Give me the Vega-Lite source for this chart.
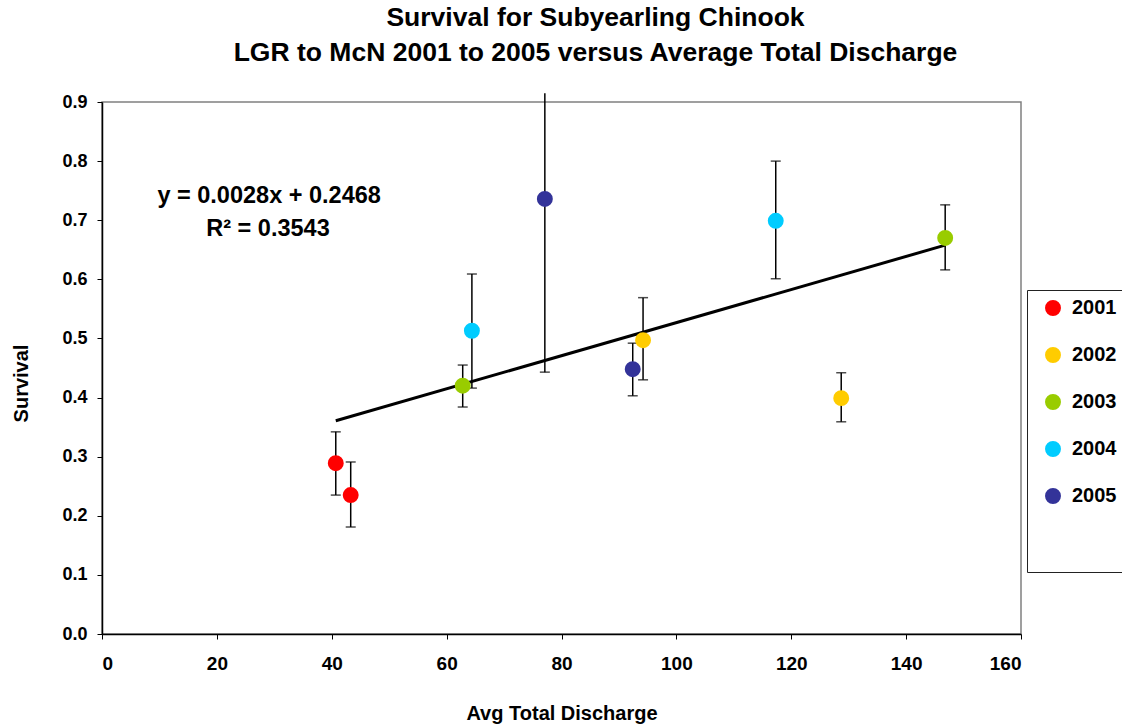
{
  "$schema": "https://vega.github.io/schema/vega-lite/v6.json",
  "autosize": "none",
  "width": 919,
  "height": 532,
  "padding": {"left": 102, "top": 102, "right": 101, "bottom": 94},
  "background": "white",
  "title": {
    "text": ["Survival for Subyearling Chinook", "LGR to McN 2001 to 2005 versus Average Total Discharge"],
    "font": "Liberation Sans",
    "fontSize": 26.5,
    "fontWeight": "bold",
    "color": "black",
    "anchor": "middle",
    "dx": 34,
    "offset": 26,
    "lineHeight": 35
  },
  "config": {
    "font": "Liberation Sans",
    "view": {"stroke": "#808080", "strokeWidth": 1.5},
    "axis": {
      "grid": false,
      "domainColor": "black",
      "domainWidth": 1.5,
      "tickColor": "black",
      "tickWidth": 1,
      "tickSize": 5,
      "labelFont": "Liberation Sans",
      "labelFontWeight": "bold",
      "labelColor": "black",
      "titleFont": "Liberation Sans",
      "titleFontSize": 20,
      "titleFontWeight": "bold",
      "titleColor": "black"
    }
  },
  "datasets": {
    "pts": [
      {"year": "2001", "discharge": 40.7, "survival": 0.289, "lo": 0.235, "hi": 0.342, "cap": true},
      {"year": "2001", "discharge": 43.3, "survival": 0.235, "lo": 0.181, "hi": 0.291, "cap": true},
      {"year": "2003", "discharge": 62.8, "survival": 0.420, "lo": 0.384, "hi": 0.455, "cap": true},
      {"year": "2004", "discharge": 64.4, "survival": 0.513, "lo": 0.416, "hi": 0.609, "cap": true},
      {"year": "2005", "discharge": 77.1, "survival": 0.736, "lo": 0.443, "hi": 0.915, "cap": false},
      {"year": "2005", "discharge": 92.4, "survival": 0.448, "lo": 0.403, "hi": 0.492, "cap": true},
      {"year": "2002", "discharge": 94.2, "survival": 0.497, "lo": 0.430, "hi": 0.569, "cap": true},
      {"year": "2004", "discharge": 117.3, "survival": 0.699, "lo": 0.601, "hi": 0.800, "cap": true},
      {"year": "2002", "discharge": 128.7, "survival": 0.399, "lo": 0.359, "hi": 0.442, "cap": true},
      {"year": "2003", "discharge": 146.8, "survival": 0.670, "lo": 0.616, "hi": 0.726, "cap": true}
    ],
    "trend": [
      {"discharge": 40.7, "survival": 0.3608},
      {"discharge": 146.8, "survival": 0.6578}
    ],
    "notes": [
      {"discharge": 29.1, "survival": 0.741, "label": "y = 0.0028x + 0.2468"},
      {"discharge": 28.9, "survival": 0.685, "label": "R² = 0.3543"}
    ]
  },
  "encoding": {
    "x": {
      "field": "discharge",
      "type": "quantitative",
      "scale": {"domain": [0, 160], "nice": false, "zero": false},
      "axis": {
        "title": "Avg Total Discharge",
        "values": [0, 20, 40, 60, 80, 100, 120, 140, 160],
        "labelFontSize": 19,
        "labelPadding": 15,
        "titlePadding": 30
      }
    },
    "y": {
      "field": "survival",
      "type": "quantitative",
      "scale": {"domain": [0, 0.9], "nice": false, "zero": false},
      "axis": {
        "title": "Survival",
        "values": [0, 0.1, 0.2, 0.3, 0.4, 0.5, 0.6, 0.7, 0.8, 0.9],
        "format": ".1f",
        "labelFontSize": 18,
        "labelPadding": 10,
        "titlePadding": 30,
        "titleY": 281
      }
    }
  },
  "layer": [
    {
      "data": {"name": "pts"},
      "mark": {"type": "rule", "color": "black", "strokeWidth": 1.5},
      "encoding": {
        "y": {"field": "lo", "type": "quantitative"},
        "y2": {"field": "hi"}
      }
    },
    {
      "data": {"name": "pts"},
      "mark": {"type": "tick", "orient": "horizontal", "color": "black", "size": 10, "thickness": 1.5},
      "encoding": {
        "y": {"field": "lo", "type": "quantitative"}
      }
    },
    {
      "data": {"name": "pts"},
      "transform": [{"filter": "datum.cap"}],
      "mark": {"type": "tick", "orient": "horizontal", "color": "black", "size": 10, "thickness": 1.5},
      "encoding": {
        "y": {"field": "hi", "type": "quantitative"}
      }
    },
    {
      "data": {"name": "trend"},
      "mark": {"type": "line", "color": "black", "strokeWidth": 3},
      "encoding": {}
    },
    {
      "data": {"name": "pts"},
      "mark": {"type": "circle", "size": 254, "opacity": 1},
      "encoding": {
        "color": {
          "field": "year",
          "type": "nominal",
          "scale": {
            "domain": ["2001", "2002", "2003", "2004", "2005"],
            "range": ["#FF0000", "#FFCC00", "#99CC00", "#00CCFF", "#333399"]
          },
          "legend": {
            "orient": "none",
            "legendX": 925,
            "legendY": 188,
            "title": " ",
            "titleOrient": "bottom",
            "titleFontSize": 10,
            "titlePadding": 48,
            "strokeColor": "#222222",
            "fillColor": "white",
            "padding": 8,
            "symbolType": "circle",
            "symbolSize": 254,
            "symbolStrokeWidth": 0,
            "symbolOpacity": 1,
            "symbolOffset": 8,
            "labelFont": "Liberation Sans",
            "labelFontSize": 20,
            "labelFontWeight": "bold",
            "labelColor": "black",
            "labelOffset": 9,
            "rowPadding": 27
          }
        }
      }
    },
    {
      "data": {"name": "notes"},
      "mark": {"type": "text", "font": "Liberation Sans", "fontSize": 23.5, "fontWeight": "bold", "color": "black", "align": "center", "baseline": "middle"},
      "encoding": {
        "text": {"field": "label"}
      }
    }
  ]
}
